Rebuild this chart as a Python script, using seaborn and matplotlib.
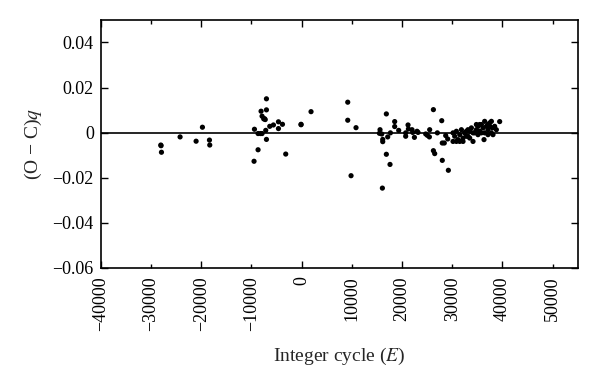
import numpy as np
import pandas as pd
import matplotlib
matplotlib.use("Agg")
import matplotlib.pyplot as plt
from matplotlib.ticker import FixedLocator, FuncFormatter
import seaborn as sns

# Integer cycle E
cycle = [
    -28050, -28000, -27920, -24210, -21020, -19760, -18360, -18300,
    -9480, -9400, -8680, -8680, -8200, -7880, -8080, -7880, -7550, -7010,
    -7010, -7400, -7250, -7150, -7010, -6350, -5620, -4620, -4620, -3820,
    -3170, -120, -120, 1870,
    9180, 9180, 9840, 10830, 15610, 15490, 15950, 16150, 16150, 16080,
    16870, 16870, 17600, 17140, 17680, 18530, 18530, 19330, 20720, 20720,
    21190, 21260, 21980, 22120, 22460, 22980, 23180, 24710, 25040, 25500,
    25440, 26240, 26240, 26500, 27030, 27900, 28010, 28410, 28010, 28690,
    29090, 29220,
    30150, 30480, 30820, 31140, 31480, 31820, 32140, 32470, 32810, 33130,
    33470, 33810, 34130, 34460, 34800, 35120, 35460, 35800, 36120, 36320,
    36450, 36790, 37110, 37450, 37790, 37990, 38110, 38440, 38780, 39440,
    30150, 30820, 32140, 33130, 35120, 35800, 36450, 37110, 37450, 35460,
    34800, 34130, 33470, 32810, 31480, 37110, 37790,
]
# O - C residuals
oc = [
    -0.0055, -0.0058, -0.0087, -0.0019, -0.0038, 0.0024, -0.0033, -0.0055,
    -0.0127, 0.0015, -0.0076, -0.0004, -0.0004, -0.0004, 0.0095, 0.0073, 0.0061, 0.0150,
    0.0101, 0.0062, 0.0058, 0.0010, -0.0030, 0.0028, 0.0034, 0.0048, 0.0018, 0.0037,
    -0.0095, 0.0037, 0.0035, 0.0093,
    0.0135, 0.0055, -0.0191, 0.0022, 0.0013, -0.0003, -0.0006, -0.0030, -0.0040, -0.0246,
    0.0083, -0.0096, -0.0141, -0.0019, -0.0001, 0.0049, 0.0027, 0.0010, -0.0016, -0.0001,
    0.0034, 0.0016, 0.0013, 0.0001, -0.0021, 0.0006, 0.0001, -0.0006, -0.0012, 0.0013,
    -0.0019, 0.0102, -0.0080, -0.0093, -0.0001, 0.0053, -0.0046, -0.0046, -0.0123, -0.0013,
    -0.0028, -0.0167,
    -0.0001, -0.0016, 0.0006, -0.0031, -0.0009, 0.0013, -0.0024, -0.0001, -0.0016, 0.0013,
    0.0006, 0.0021, -0.0039, -0.0001, 0.0013, 0.0028, 0.0006, 0.0036, 0.0021, -0.0031,
    0.0050, 0.0028, 0.0013, 0.0043, 0.0050, 0.0021, -0.0009, 0.0028, 0.0013, 0.0049,
    -0.0039, -0.0039, -0.0039, -0.0016, -0.0009, -0.0001, -0.0001, -0.0009, 0.0028, 0.0036,
    0.0036, -0.0001, -0.0024, 0.0006, -0.0039, 0.0036, -0.0001,
]

x_ticks = [-40000, -30000, -20000, -10000, 0, 10000, 20000, 30000, 40000, 50000]
y_ticks = [-0.06, -0.04, -0.02, 0, 0.02, 0.04]

df = pd.DataFrame({"E": cycle, "OC": oc})

sns.set_style("ticks")
plt.rcParams["font.family"] = ["Liberation Serif", "DejaVu Serif"]
plt.rcParams["mathtext.fontset"] = "stix"

fig = plt.figure(figsize=(6, 3.9), dpi=100)
ax = fig.add_axes([0.168, 0.313, 0.795, 0.636])

sns.scatterplot(data=df, x="E", y="OC", ax=ax, color="black", s=14,
                edgecolor="none", linewidth=0, zorder=3)
ax.axhline(0, color="black", lw=1.2, zorder=2)

ax.set_xlim(-40000, 55000)
ax.set_ylim(-0.06, 0.05)

def fmt_x(v, pos):
    v = int(round(v))
    return "\u2212" + str(-v) if v < 0 else str(v)

def fmt_y(v, pos):
    if abs(v) < 1e-12:
        return "0"
    s = f"{abs(v):.2f}"
    return ("\u2212" + s) if v < 0 else s

ax.xaxis.set_major_locator(FixedLocator(x_ticks[::2]))
ax.xaxis.set_minor_locator(FixedLocator(x_ticks[1::2]))
ax.xaxis.set_major_formatter(FuncFormatter(fmt_x))
ax.xaxis.set_minor_formatter(FuncFormatter(fmt_x))
ax.yaxis.set_major_locator(FixedLocator(y_ticks))
ax.yaxis.set_major_formatter(FuncFormatter(fmt_y))

ax.tick_params(axis="both", which="both", direction="in", top=True, right=True,
               labelsize=13, colors="black")
ax.tick_params(axis="both", which="major", length=5, width=1)
ax.tick_params(axis="x", which="minor", length=3, width=1)
ax.tick_params(axis="x", which="both", labelrotation=90, pad=6)
ax.tick_params(axis="y", pad=5)

for sp in ax.spines.values():
    sp.set_linewidth(1.2)
    sp.set_color("black")

ax.set_xlabel("Integer cycle ($E$)", fontsize=14, labelpad=11)
ax.set_ylabel("(O \u2212 C)$q$", fontsize=14, labelpad=6)

fig.savefig("out.png", dpi=100, facecolor="white")
